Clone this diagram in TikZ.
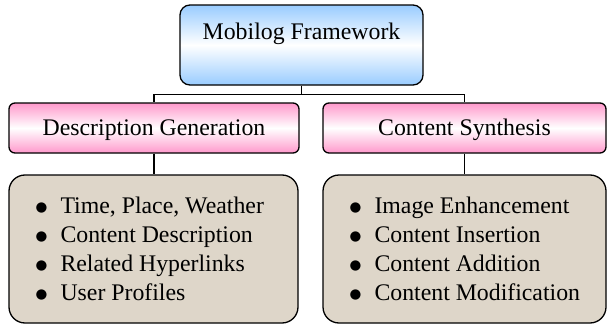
\documentclass[tikz,border=0pt]{standalone}
\usepackage{fontspec}
\setmainfont{Liberation Serif}
\newfontfamily\symfont{DejaVu Sans}
\definecolor{skyb}{RGB}{153,204,255}
\definecolor{pinkb}{RGB}{255,153,204}
\definecolor{parch}{RGB}{222,214,201}
\newcommand{\bitem}[1]{\mbox{\makebox[25pt][l]{\raisebox{2.2pt}{\fontsize{13.5}{13.5}\symfont ●}}#1}}
\begin{document}
\begin{tikzpicture}[x=1pt,y=-1pt,
  box/.style={draw=black, line width=1.3pt, inner sep=0pt, font=\fontsize{23.8}{29}\selectfont},
  topbox/.style={box, rounded corners=10pt, top color=skyb, bottom color=skyb, middle color=white,
    minimum width=243pt, minimum height=80pt, text height=16pt, text depth=28pt},
  midbox/.style={box, rounded corners=6pt, top color=pinkb, bottom color=pinkb, middle color=white,
    minimum height=50pt, text height=17pt, text depth=3pt},
  botbox/.style={box, rounded corners=16pt, fill=parch, minimum height=148pt, align=flush left, inner xsep=26.5pt},
  conn/.style={draw=black, line width=1.1pt}]
\useasboundingbox (0,0) rectangle (608,324);
\node[topbox] (top) at (301.5,45) {Mobilog Framework};
\node[midbox, minimum width=290pt] (dg) at (154,128) {Description Generation};
\node[midbox, minimum width=283pt] (cs) at (464.5,128) {Content Synthesis};
\node[botbox, text width=236pt] (l1) at (153.5,249) {%
\bitem{Time, Place, Weather}\\
\bitem{Content Description}\\
\bitem{Related Hyperlinks}\\
\bitem{User Profiles}};
\node[botbox, text width=230pt] (l2) at (464.5,249) {%
\bitem{Image Enhancement}\\
\bitem{Content Insertion}\\
\bitem{Content Addition}\\
\bitem{Content Modification}};
\draw[conn] (top.south) -- ++(0,9) coordinate (j) -| (dg.north);
\draw[conn] (j) -| (cs.north);
\draw[conn] (dg.south) -- (dg.south |- l1.north);
\draw[conn] (cs.south) -- (cs.south |- l2.north);
\end{tikzpicture}
\end{document}
